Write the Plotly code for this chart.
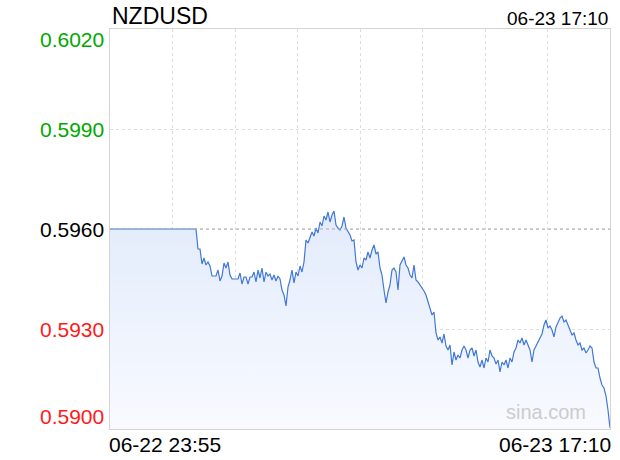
import plotly.graph_objects as go

symbol = "NZDUSD"
current_time = "06-23 17:10"
x_labels = ["06-22 23:55", "06-23 17:10"]
prev_close = 0.5960
y_ticks = [0.5900, 0.5930, 0.5960, 0.5990, 0.6020]
y_tick_labels = ["0.5900", "0.5930", "0.5960", "0.5990", "0.6020"]

flat_part = [0.5960] * 44
moving_part = [
    0.5954, 0.5954, 0.59495, 0.59513, 0.59492, 0.59501, 0.59489, 0.59459, 0.59459, 0.59459,
    0.59477, 0.59444, 0.59459, 0.59498, 0.59483, 0.59501, 0.59462, 0.5945, 0.5945, 0.5945,
    0.5945, 0.59468, 0.59435, 0.59456, 0.59456, 0.59435, 0.59456, 0.59456, 0.59471, 0.59441,
    0.59477, 0.59453, 0.59483, 0.59441, 0.59471, 0.59459, 0.59465, 0.59447, 0.59462, 0.59444,
    0.59459, 0.5945, 0.59417, 0.59402, 0.59369, 0.59426, 0.59447, 0.59477, 0.59438, 0.59471,
    0.59459, 0.59489, 0.59471, 0.59501, 0.59567, 0.59558, 0.59573, 0.59591, 0.59579, 0.59603,
    0.59588, 0.59621, 0.59609, 0.59639, 0.59627, 0.59651, 0.59621, 0.59642, 0.59654, 0.59612,
    0.59603, 0.59597, 0.59609, 0.59636, 0.59603, 0.59591, 0.59582, 0.59564, 0.59567, 0.59501,
    0.59477, 0.59492, 0.59483, 0.59513, 0.59507, 0.59531, 0.59513, 0.59537, 0.59552, 0.59525,
    0.59531, 0.59483, 0.59462, 0.59417, 0.59378, 0.59411, 0.59432, 0.59477, 0.59483, 0.59471,
    0.59417, 0.59492, 0.59507, 0.59516, 0.59492, 0.59483, 0.59462, 0.59453, 0.59492, 0.59447,
    0.59441, 0.59432, 0.59426, 0.59414, 0.59402, 0.59381, 0.59357, 0.59342, 0.59351, 0.59288,
    0.59267, 0.59276, 0.59258, 0.59285, 0.59249, 0.59237, 0.59252, 0.59192, 0.59231, 0.59207,
    0.59222, 0.59213, 0.59237, 0.59249, 0.59237, 0.59213, 0.59237, 0.59243, 0.59219, 0.59237,
    0.59201, 0.59186, 0.59207, 0.59183, 0.59213, 0.59201, 0.59237, 0.59219, 0.59213, 0.59195,
    0.59207, 0.59171, 0.59201, 0.59192, 0.59207, 0.59183, 0.59213, 0.59201, 0.59231, 0.59243,
    0.59267, 0.59258, 0.59273, 0.59252, 0.59267, 0.59249, 0.59237, 0.59201, 0.59237, 0.59249,
    0.59261, 0.59273, 0.59285, 0.59312, 0.59327, 0.59303, 0.59309, 0.59297, 0.59276, 0.59306,
    0.59321, 0.59333, 0.59339, 0.59321, 0.59327, 0.59309, 0.59297, 0.59282, 0.59288, 0.59267,
    0.59252, 0.59258, 0.59237, 0.59243, 0.59228, 0.59237, 0.59249, 0.59243, 0.59201, 0.59183,
    0.59183, 0.59153, 0.59132, 0.59123, 0.59099, 0.59057, 0.59003,
]
prices = flat_part + moving_part
steps = list(range(len(prices)))
n_last = len(prices) - 1

fig = go.Figure()
fig.add_trace(go.Scatter(
    x=steps, y=prices, mode="lines",
    line=dict(color="#4178d6", width=1.2),
    fill="tozeroy",
    fillgradient=dict(
        type="vertical",
        start=y_ticks[0], stop=max(prices),
        colorscale=[[0, "rgba(248,250,255,1)"], [1, "rgba(226,235,251,1)"]],
    ),
    hoverinfo="skip", showlegend=False,
))

fig.add_shape(type="line", xref="paper", x0=0, x1=1, yref="y", y0=prev_close, y1=prev_close,
              line=dict(color="#aaaaaa", width=1, dash="dot"), layer="above")

FONT = "Liberation Sans, Arial, Helvetica, sans-serif"
annotations = []
for v, t in zip(y_ticks, y_tick_labels):
    if v > prev_close + 1e-9:
        c = "#00a800"
    elif v < prev_close - 1e-9:
        c = "#ff1a1a"
    else:
        c = "#000000"
    shift = 0
    if v == y_ticks[-1]:
        shift = -10
    elif v == y_ticks[0]:
        shift = 13
    annotations.append(dict(x=0, xref="paper", xanchor="right", xshift=-4,
                            y=v, yref="y", yanchor="middle", yshift=shift,
                            text=t, showarrow=False,
                            font=dict(family=FONT, size=21, color=c)))

annotations += [
    dict(x=0, xref="paper", xanchor="left", y=1, yref="paper", yanchor="bottom", yshift=-2,
         text=symbol, showarrow=False, font=dict(family=FONT, size=23, color="#000")),
    dict(x=1, xref="paper", xanchor="right", y=1, yref="paper", yanchor="bottom", yshift=-2,
         text=current_time, showarrow=False, font=dict(family=FONT, size=19, color="#000")),
    dict(x=0, xref="x", xanchor="left", y=0, yref="paper", yanchor="top", yshift=-2, xshift=-3,
         text=x_labels[0], showarrow=False, font=dict(family=FONT, size=21, color="#000")),
    dict(x=n_last, xref="x", xanchor="right", y=0, yref="paper", yanchor="top", yshift=-2, xshift=3,
         text=x_labels[1], showarrow=False, font=dict(family=FONT, size=21, color="#000")),
    dict(x=1, xref="paper", xanchor="right", xshift=-22, y=0, yref="paper", yanchor="bottom", yshift=4,
         text="sina.com", showarrow=False, font=dict(family=FONT, size=20, color="#cccccc")),
]

fig.update_layout(
    width=620, height=460,
    margin=dict(l=110, r=10, t=29, b=31),
    paper_bgcolor="white", plot_bgcolor="white",
    annotations=annotations,
    xaxis=dict(range=[0, n_last], showticklabels=False, ticks="",
               tick0=0, dtick=n_last / 8, showgrid=True, gridcolor="#dddddd", griddash="dot",
               gridwidth=1, showline=True, linecolor="#d4d4d4", linewidth=1, mirror=True,
               zeroline=False, fixedrange=True),
    yaxis=dict(range=[y_ticks[0], y_ticks[-1]], showticklabels=False, ticks="",
               tickvals=y_ticks, showgrid=True, gridcolor="#dddddd", griddash="dot",
               gridwidth=1, showline=True, linecolor="#d4d4d4", linewidth=1, mirror=True,
               zeroline=False, fixedrange=True),
)

fig.write_html("out.html", config={"displayModeBar": False})

# remove the default page margin so the 620x460 figure fills the window exactly
with open("out.html", "r", encoding="utf-8") as f:
    html = f.read()
html = html.replace("<head>", "<head><style>html,body{margin:0;padding:0;overflow:hidden;}</style>", 1)
with open("out.html", "w", encoding="utf-8") as f:
    f.write(html)
